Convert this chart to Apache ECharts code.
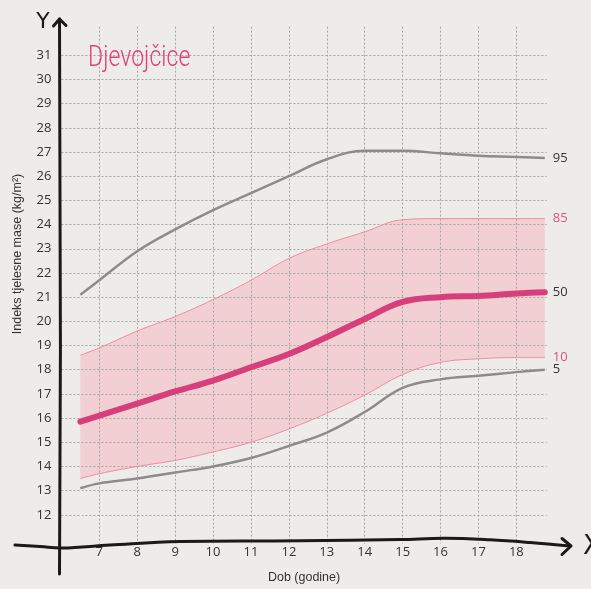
<!DOCTYPE html>
<html>
<head>
<meta charset="utf-8">
<script src="https://cdn.jsdelivr.net/npm/echarts@6/dist/echarts.min.js"></script>
<style>
html, body { margin: 0; padding: 0; background: #eeece8; }
#chart { width: 591px; height: 589px; }
</style>
</head>
<body>
<div id="chart"></div>
<script>
// dob (godine) i percentile ITM-a
var ages = [6.5, 7, 8, 9, 10, 11, 12, 13, 14, 15, 16, 17, 18, 18.75];
var p95 = [21.1, 21.7, 22.9, 23.8, 24.6, 25.3, 26.0, 26.7, 27.05, 27.05, 26.95, 26.85, 26.8, 26.75];
var p85 = [18.6, 18.9, 19.6, 20.2, 20.9, 21.7, 22.6, 23.2, 23.7, 24.2, 24.25, 24.25, 24.25, 24.25];
var p50 = [15.85, 16.1, 16.6, 17.1, 17.55, 18.1, 18.65, 19.35, 20.1, 20.8, 21.0, 21.05, 21.15, 21.2];
var p10 = [13.5, 13.7, 14.0, 14.25, 14.6, 15.0, 15.55, 16.2, 16.95, 17.8, 18.3, 18.45, 18.5, 18.5];
var p5 = [13.1, 13.3, 13.5, 13.75, 14.0, 14.35, 14.85, 15.4, 16.25, 17.25, 17.6, 17.75, 17.9, 18.0];

var bg = '#eeece8';
var last = ages.length - 1;
var myChart = echarts.init(document.getElementById('chart'));

function pairs(v) {
    return ages.map(function (a, i) { return [a, v[i]]; });
}

var dotted = { color: '#a5a5a5', type: [2, 2], width: 1 };
var labelFont = { color: '#333', fontSize: 13, fontFamily: 'Open Sans' };

function endLab(txt, color) {
    return { show: true, formatter: txt, color: color, fontSize: 13, fontFamily: 'Open Sans', distance: 8 };
}

var option = {
    backgroundColor: bg,
    animation: false,
    grid: [
        { left: 61.4, right: 44.3, top: 55.3, bottom: 45.6 },
        { left: 61.4, right: 44.3, top: 26.7, bottom: 45.6 }
    ],
    xAxis: [
        {
            gridIndex: 0, type: 'value', min: 6, max: 18.8, interval: 1,
            axisLine: { show: false }, axisTick: { show: false }, splitLine: { show: false },
            axisLabel: Object.assign({ showMinLabel: false, showMaxLabel: false, margin: 7 }, labelFont),
            name: 'Dob (godine)', nameLocation: 'middle', nameGap: 32,
            nameTextStyle: { color: '#333', fontSize: 12.5, fontFamily: 'Liberation Sans' }
        },
        {
            gridIndex: 1, type: 'value', min: 6, max: 18.8, interval: 1, z: 3,
            axisLine: { show: false }, axisTick: { show: false }, axisLabel: { show: false },
            splitLine: { show: true, showMinLine: false, showMaxLine: false, lineStyle: dotted }
        }
    ],
    yAxis: [
        {
            gridIndex: 0, type: 'value', min: 11, max: 31, interval: 1, z: 3,
            axisLine: { show: false }, axisTick: { show: false },
            splitLine: { show: true, showMinLine: false, showMaxLine: true, lineStyle: dotted },
            axisLabel: Object.assign({ showMinLabel: false, margin: 10 }, labelFont)
        },
        { gridIndex: 1, type: 'value', min: 0, max: 1, show: false }
    ],
    series: [
        // ruzicasto polje izmedju 10. i 85. percentile
        {
            name: 'band85', type: 'line', data: pairs(p85), smooth: 0.4, z: 1,
            symbol: 'none', silent: true, lineStyle: { opacity: 0 },
            areaStyle: { color: '#f2cfd3', opacity: 1, origin: 5 }
        },
        {
            name: 'band10', type: 'line', data: pairs(p10), smooth: 0.4, z: 2,
            symbol: 'none', silent: true, lineStyle: { opacity: 0 },
            areaStyle: { color: bg, opacity: 1, origin: 5 },
            // prekriva rubove ispod 10. percentile
            markLine: {
                silent: true, symbol: 'none', label: { show: false },
                lineStyle: { color: bg, width: 2, type: 'solid', opacity: 1 },
                data: [
                    [{ coord: [ages[0], 11] }, { coord: [ages[0], p10[0]] }],
                    [{ coord: [ages[last], 11] }, { coord: [ages[last], p10[last]] }]
                ]
            }
        },
        {
            name: '85', type: 'line', data: pairs(p85), smooth: 0.4, symbol: 'none', z: 5,
            lineStyle: { color: '#f08ca4', width: 1 }, endLabel: endLab('85', '#e4507f')
        },
        {
            name: '10', type: 'line', data: pairs(p10), smooth: 0.4, symbol: 'none', z: 5,
            lineStyle: { color: '#f08ca4', width: 1 }, endLabel: endLab('10', '#e4507f')
        },
        {
            name: '95', type: 'line', data: pairs(p95), smooth: 0.4, symbol: 'none', z: 5,
            lineStyle: { color: '#8c8c8c', width: 2.5 }, endLabel: endLab('95', '#333')
        },
        {
            name: '5', type: 'line', data: pairs(p5), smooth: 0.4, symbol: 'none', z: 5,
            lineStyle: { color: '#8c8c8c', width: 2.5 }, endLabel: endLab('5', '#333')
        },
        {
            name: '50', type: 'line', data: pairs(p50), smooth: 0.4, symbol: 'none', z: 6,
            lineStyle: { color: '#d63f7a', width: 6, cap: 'round' }, endLabel: endLab('50', '#333')
        }
    ],
    graphic: [
        // rukom crtane osi
        {
            type: 'bezierCurve', z: 100,
            shape: { x1: 59.5, y1: 574, cpx1: 61, cpy1: 400, cpx2: 60.5, cpy2: 150, x2: 59.5, y2: 19 },
            style: { stroke: '#1a1a1a', lineWidth: 3, lineCap: 'round', fill: null }
        },
        {
            type: 'polyline', z: 100,
            shape: { points: [[53.5, 26], [59.5, 19], [66, 25.5]] },
            style: { stroke: '#1a1a1a', lineWidth: 3, lineCap: 'round', lineJoin: 'round', fill: null }
        },
        {
            type: 'polyline', z: 100,
            shape: {
                points: [[15, 545], [40, 546.5], [62, 548], [110, 545], [180, 541.5], [300, 540.8],
                    [400, 539.5], [445, 538.3], [490, 539.8], [530, 542.5], [570, 546]],
                smooth: 0.4
            },
            style: { stroke: '#1a1a1a', lineWidth: 3, lineCap: 'round', fill: null }
        },
        {
            type: 'polyline', z: 100,
            shape: { points: [[562, 538.5], [571, 546], [562, 554.5]] },
            style: { stroke: '#1a1a1a', lineWidth: 3, lineCap: 'round', lineJoin: 'round', fill: null }
        },
        {
            type: 'text', z: 100, x: 43, y: 22,
            style: { text: 'Y', font: '22px "DejaVu Sans"', fill: '#1a1a1a', align: 'center', verticalAlign: 'middle' }
        },
        {
            type: 'text', z: 100, x: 583, y: 547,
            style: { text: 'X', font: '26px "DejaVu Sans"', fill: '#1a1a1a', align: 'left', verticalAlign: 'middle' }
        },
        {
            type: 'text', z: 100, x: 88, y: 58, scaleX: 0.77,
            style: { text: 'Djevojčice', font: '300 30px Roboto', fill: '#e0407a', align: 'left', verticalAlign: 'middle' }
        },
        {
            type: 'text', z: 100, x: 18, y: 254, rotation: Math.PI / 2,
            style: { text: 'Indeks tjelesne mase (kg/m²)', font: '12.5px "Liberation Sans"', fill: '#333', align: 'center', verticalAlign: 'middle' }
        }
    ]
};

myChart.setOption(option);
</script>
</body>
</html>
